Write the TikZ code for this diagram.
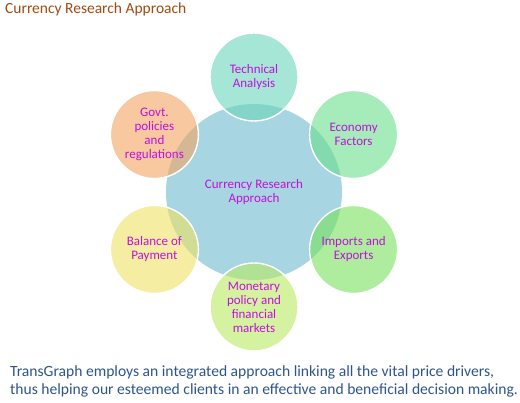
\documentclass[tikz,border=0pt]{standalone}
\usepackage{fontspec}
\setmainfont{Carlito}
\usepackage{xcolor}
\usetikzlibrary{positioning,calc}
\definecolor{coreblue}{RGB}{167, 213, 225}
\definecolor{techteal}{RGB}{107, 213, 187}
\definecolor{econgreen}{RGB}{107, 222, 140}
\definecolor{impgreen}{RGB}{120, 225, 93}
\definecolor{monlime}{RGB}{185, 233, 98}
\definecolor{balyellow}{RGB}{238, 225, 98}
\definecolor{govorange}{RGB}{243, 163, 97}
\definecolor{labelpurple}{RGB}{192, 16, 220}
\definecolor{titlebrown}{RGB}{160, 74, 16}
\definecolor{notenavy}{RGB}{46, 84, 138}

\begin{document}
\begin{tikzpicture}[
    x=1pt, y=1pt,
    core/.style={circle, minimum size=176pt, inner sep=0pt, fill=coreblue, align=center, text=labelpurple, font=\fontsize{13}{14}\selectfont},
    sat/.style={circle, minimum size=88pt, inner sep=0pt, draw=white, line width=1.4pt, fill opacity=0.6, text opacity=1, align=center, text=labelpurple, font=\fontsize{13}{14}\selectfont},
    note/.style={anchor=base west, text=notenavy, font=\fontsize{15.6}{18}\selectfont}
]
\useasboundingbox (0,0) rectangle (520,403);

% ═══════════════════════════════════════════════════════════════
% Title
% ═══════════════════════════════════════════════════════════════
\node[anchor=base west, inner sep=0pt, text=titlebrown, font=\fontsize{15.5}{18}\selectfont] (title) at (5,389) {Currency Research Approach};

% ═══════════════════════════════════════════════════════════════
% Radial diagram: centre and six drivers
% ═══════════════════════════════════════════════════════════════
\node[core] (core) at (254,211) {Currency Research\\Approach};

\node[sat, fill=techteal] (tech) at ($(core)+(90:115)$) {Technical\\Analysis};
\node[sat, fill=econgreen] (econ) at ($(core)+(30:115)$) {Economy\\Factors};
\node[sat, fill=impgreen] (imp) at ($(core)+(-30:115)$) {Imports and\\Exports};
\node[sat, fill=monlime] (mon) at ($(core)+(-90:115)$) {Monetary\\policy and\\financial\\markets};
\node[sat, fill=balyellow] (bal) at ($(core)+(210:115)$) {Balance of\\Payment};
\node[sat, fill=govorange] (gov) at ($(core)+(150:115)$) {Govt.\\policies\\and\\regulations};

% ═══════════════════════════════════════════════════════════════
% Note below the diagram
% ═══════════════════════════════════════════════════════════════
\node[note, inner sep=0pt] (line1) at (10,26) {TransGraph employs an integrated approach linking all the vital price drivers,};
\node[note, inner sep=0pt] (line2) at (10,8) {thus helping our esteemed clients in an effective and beneficial decision making.};

\end{tikzpicture}
\end{document}
